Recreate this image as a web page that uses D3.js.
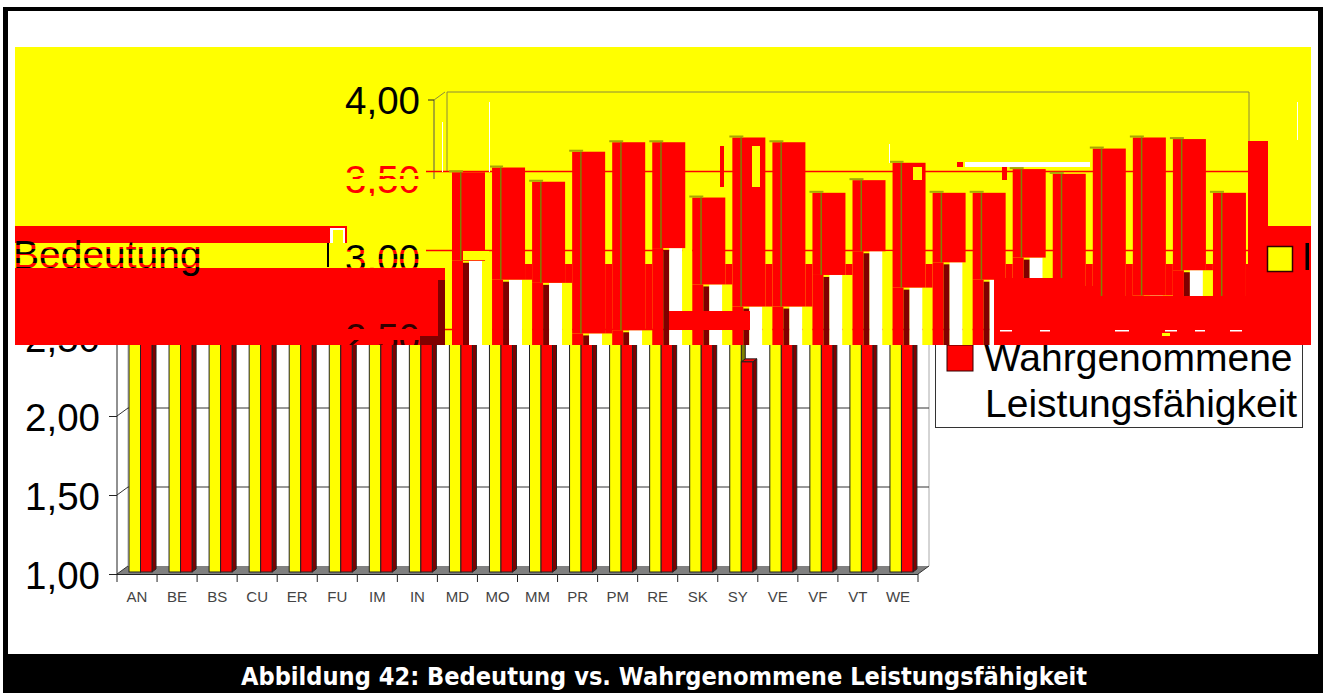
<!DOCTYPE html>
<html><head><meta charset="utf-8">
<script src="https://cdn.jsdelivr.net/npm/d3@7/dist/d3.min.js"></script>
<style>html,body{margin:0;padding:0;background:#fff;overflow:hidden}svg{display:block}text{font-family:"Liberation Sans",Arial,sans-serif}</style>
</head><body>
<script>
const categories = ["AN","BE","BS","CU","ER","FU","IM","IN","MD","MO","MM","PR","PM","RE","SK","SY","VE","VF","VT","WE"];
const bedeutung = [3.53,3.56,3.47,3.66,3.72,3.72,3.37,3.75,3.72,3.40,3.48,3.59,3.40,3.40,3.55,3.52,3.68,3.75,3.74,3.40];
const wahrgenommen = [2.97,2.85,2.83,2.51,2.53,3.05,2.82,2.68,2.68,2.88,3.03,2.80,2.96,2.85,2.99,2.33,2.74,2.75,2.91,2.69];
const yTicks = [1,1.5,2,2.5];
const bandTicks = [4,3.5,3,2.5];
const legendLabels = ["Bedeutung","Wahrgenommene","Leistungsfähigkeit"];
const captionText = "Abbildung 42: Bedeutung vs. Wahrgenommene Leistungsfähigkeit";

const W=1328,H=693, RED="#ff0000", YEL="#ffff00", DK="#800000", OL="#808000";
const svg=d3.select("body").append("svg").attr("width",W).attr("height",H);
const defs=svg.append("defs");
const clip=(id,rects)=>{const c=defs.append("clipPath").attr("id",id);rects.forEach(r=>c.append("rect").attr("x",r[0]).attr("y",r[1]).attr("width",r[2]).attr("height",r[3]));};
// vertical hard-stop gradient, so one text can change colour in stripes
const stripes=(id,y0,y1,bands)=>{
  const g=defs.append("linearGradient").attr("id",id).attr("gradientUnits","userSpaceOnUse").attr("x1",0).attr("x2",0).attr("y1",y0).attr("y2",y1);
  bands.forEach(b=>{
    g.append("stop").attr("offset",(b[0]-y0)/(y1-y0)).attr("stop-color",b[2]);
    g.append("stop").attr("offset",(b[1]-y0)/(y1-y0)).attr("stop-color",b[2]);
  });
};
const x=d3.scaleBand().domain(categories).range([117,918]);
const y=d3.scaleLinear().domain([1,4]).range([574,100]);
const fmt=v=>v.toFixed(2).replace(".",",");
const rect=(g,a,b,w,h,f)=>g.append("rect").attr("x",a).attr("y",b).attr("width",w).attr("height",Math.max(0,h)).attr("fill",f);

// page frame
rect(svg,0,0,W,H,"#fff");
rect(svg,3,7,1320,4,"#000");
rect(svg,3,7,5,650,"#000");
rect(svg,1318,7,5,650,"#000");
rect(svg,3,654,1320,39,"#000");
svg.append("text").attr("x",664).attr("y",685).attr("text-anchor","middle").attr("fill","#fff")
  .attr("textLength",846).attr("lengthAdjust","spacingAndGlyphs")
  .style("font-family","'DejaVu Sans'").style("font-weight","bold").style("font-size","24px").text(captionText);

// ---- undistorted chart underneath
const base=svg.append("g");
const dx=11,dz=8;
base.append("path").attr("d",`M${x.range()[0]},${y(1)}L${x.range()[0]+dx},${y(1)-dz}H${x.range()[1]+dx}L${x.range()[1]},${y(1)}Z`).attr("fill","#808080");
base.append("path").attr("d",`M${x.range()[0]+dx},${y(4)-dz}V${y(1)-dz}`).attr("stroke","#aaa").attr("fill","none");
base.append("path").attr("d",`M${x.range()[1]+dx},${y(4)-dz}V${y(1)-dz}`).attr("stroke","#aaa").attr("fill","none");
yTicks.slice(1).forEach(t=>{
  base.append("path").attr("d",`M${x.range()[0]},${y(t)}L${x.range()[0]+dx},${y(t)-dz}H${x.range()[1]+dx}`).attr("stroke","#333").attr("fill","none");
});
[x.range()[0],x.range()[1]].forEach(p=>base.append("path").attr("d",`M${p},${y(1)}L${p+dx},${y(1)-dz}`).attr("stroke","#333").attr("fill","none"));
categories.forEach((c,i)=>{
  const g=base.append("g"), b=x(c)+12, yb=y(1)-2;
  const t1=y(bedeutung[i])-2,t2=y(wahrgenommen[i])-2;
  g.append("path").attr("d",`M${b+11.5},${t1}l4,-3V${yb-t1+t1-3}l-4,3z`).attr("fill",OL).attr("stroke","#222");
  g.append("rect").attr("x",b).attr("y",t1).attr("width",11.5).attr("height",yb-t1).attr("fill",YEL).attr("stroke","#222");
  g.append("path").attr("d",`M${b+23},${t2}l4,-3V${yb-3}l-4,3z`).attr("fill",DK).attr("stroke","#222");
  g.append("path").attr("d",`M${b+11.5},${t2}l4,-3h11.5l-4,3z`).attr("fill",RED).attr("stroke","#222");
  g.append("rect").attr("x",b+11.5).attr("y",t2).attr("width",11.5).attr("height",yb-t2).attr("fill",RED).attr("stroke","#222");
});
const xAxis=base.append("g").attr("transform",`translate(0,${y(1)})`).call(d3.axisBottom(x).tickSizeOuter(0).tickSize(0));
xAxis.select(".domain").remove();
xAxis.selectAll("text").attr("dy",0).attr("y",28).style("font-size","15px").style("font-family","'Liberation Sans'").attr("fill","#444");
d3.range(categories.length+1).forEach(i=>{
  const px=x.range()[0]+i*x.bandwidth();
  base.append("line").attr("x1",px).attr("x2",px).attr("y1",y(1)).attr("y2",y(1)+8).attr("stroke","#222");
});
base.append("line").attr("x1",x.range()[0]).attr("x2",x.range()[1]).attr("y1",y(1)+.5).attr("y2",y(1)+.5).attr("stroke","#222");
base.append("line").attr("x1",x.range()[0]).attr("x2",x.range()[0]).attr("y1",y(2.5)).attr("y2",y(1)).attr("stroke","#222");
const yg=base.append("g").attr("transform",`translate(${x.range()[0]},0)`).call(d3.axisLeft(y).tickValues(yTicks).tickFormat(fmt).tickSize(8).tickSizeOuter(0));
yg.select(".domain").remove();
yg.selectAll("line").attr("stroke","#222");
yg.selectAll("text").attr("x",-17).attr("dy",14).style("font-size","38.5px").style("font-family","'Liberation Sans'").attr("fill","#000");
const lg=base.append("g");
rect(lg,935.5,340,367,87.5,"#fff").attr("stroke","#333");
rect(lg,947,345,26,26,RED).attr("stroke","#300");
lg.append("text").attr("x",984).attr("y",371).style("font-size","39px").text(legendLabels[1]);
lg.append("text").attr("x",985).attr("y",417).style("font-size","39px").text(legendLabels[2]);

// ---- displaced copy in the corrupted band
clip("band",[[15,47,1296,298]]);
const band=svg.append("g").attr("clip-path","url(#band)");
rect(band,15,47,1296,298,YEL);
const shift=319;
const by=d=>y(d)-2;
band.append("path").attr("d",`M${x.range()[0]+dx+shift},${y(4)-dz}H${x.range()[1]+dx+shift+1}V${y(2.5)-dz}`).attr("stroke","#8a8a3a").attr("fill","none");
band.append("path").attr("d",`M${x.range()[0]+dx+shift},${y(4)-dz}V${y(3.5)-dz}`).attr("stroke","#8a8a3a").attr("fill","none");
band.append("path").attr("d",`M${x.range()[0]+shift-2},${y(4)}V${y(3.5)}`).attr("stroke","#555").attr("fill","none");
band.append("path").attr("d",`M${x.range()[0]+shift-2},${y(4)}l-6,0`).attr("stroke","#222").attr("fill","none");
band.append("path").attr("d",`M${x.range()[0]+shift-2},${y(4)}l11,-8`).attr("stroke","#8a8a3a").attr("fill","none");
[3.5,3,2.5].forEach(t=>{
  band.append("line").attr("x1",x.range()[0]+shift-10).attr("x2",x.range()[1]+dx+shift+1).attr("y1",y(t)-dz+.5).attr("y2",y(t)-dz+.5).attr("stroke",RED).attr("stroke-width",1.5);
});
const bandX=c=>x(c)+shift+16;
categories.forEach((c,i)=>{
  const b=bandX(c), top=by(bedeutung[i]), low=by(wahrgenommen[i]);
  rect(band,b,low,11,345-low,RED);
  rect(band,b+11,low+2,6,345-low,DK);
  rect(band,b+17,low,13,345-low,"#fff");
  rect(band,b+30,low,10,345-low,YEL);
  if(low>264) rect(band,b+33,264,7,Math.min(low,345)-264,RED);
  rect(band,b,top,33,low-top,RED);
  rect(band,b-3,top-2,14,2,"#a8a800");
  rect(band,b+8,top,1.5,low-top,OL);
});
rect(band,bandX("AN")+11,251,26,9,YEL);
rect(band,720,146,4,41,RED);
rect(band,752,146,8,41,YEL);
rect(band,913,167,9,13,YEL);
rect(band,1002,167,5,13,RED);
rect(band,957,162,6,5,RED);
rect(band,965,162,125,5,"#fff");
rect(band,889,144,1,19,"#fff");
rect(band,489,102,1,70,"#fff");
rect(band,1297,102,1,38,"#fff");
rect(band,442,122,1,50,"#fff");
// left legend remnant
rect(band,15,226,332,17,RED);
rect(band,330,228,15,15,"#fff");
rect(band,333,230,10,13,YEL);
rect(band,15,268,430,77,RED);
rect(band,438,280,7,65,DK);
rect(band,420,336,25,9,DK);
stripes("bStr",240,272,[[240,245,"#000"],[245,249,RED],[249,254,"#000"],[254,258,RED],[258,263,"#000"],[263,267,RED],[267,272,"#000"]]);
band.append("text").attr("x",13).attr("y",268).style("font-size","39px").attr("fill","url(#bStr)").text(legendLabels[0]);
rect(band,327,243,2,24,"#000");
// axis labels of the displaced copy
stripes("s40",60,130,[[60,130,"#000"]]);
stripes("s35",160,200,[[160,173,RED],[173,176,YEL],[176,179,RED],[179,186,YEL],[186,196,RED],[196,200,YEL]]);
stripes("s30",240,280,[[240,250,"#000"],[250,254,RED],[254,259,"#000"],[259,263,RED],[263,267,"#000"],[267,280,RED]]);
stripes("s25",315,350,[[315,329,"#300000"],[329,340,RED],[340,350,"#300000"]]);
const gradFor={4:"s40",3.5:"s35",3:"s30",2.5:"s25"};
bandTicks.forEach(v=>{
  band.append("text").attr("x",420).attr("y",y(v)+14).attr("text-anchor","end").style("font-size","38.5px")
    .attr("fill",`url(#${gradFor[v]})`).text(fmt(v));
});
// right side fragments
rect(band,1248,141,20,90,RED);
rect(band,1248,226,63,119,RED);
rect(band,1267.5,246.5,25,25,YEL).attr("stroke","#300").attr("stroke-width",1.5);
band.append("text").attr("x",1302).attr("y",270).style("font-size","39px").attr("fill","#000").text(legendLabels[0].charAt(0));
rect(band,1309,226,2,119,RED);
rect(band,994,278,90,67,RED);
rect(band,1084,286,10,59,RED);
rect(band,1094,296,217,49,RED);
rect(band,1215,305,40,40,RED);
rect(band,669,311,81,19,RED);
[[1000,12],[1040,10],[1115,14],[1165,12],[1195,10],[1230,12]].forEach(d=>rect(band,d[0],330,d[1],1.5,"#fff"));
rect(band,1162,333,8,3,YEL);
</script>
</body></html>
